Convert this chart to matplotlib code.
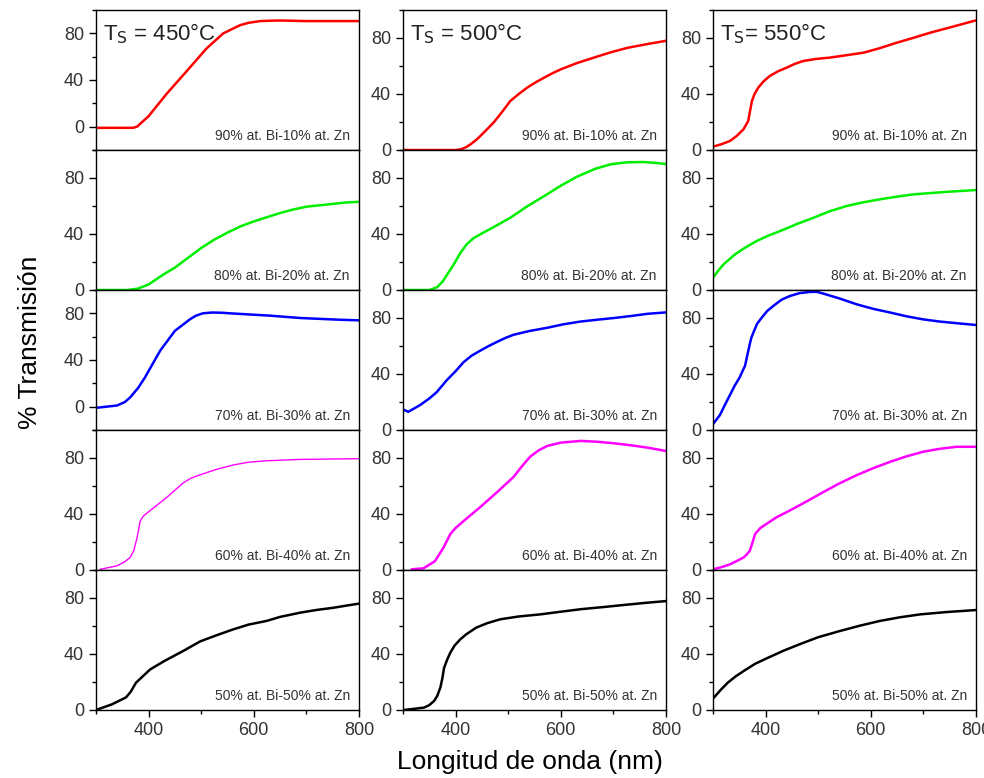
import matplotlib
matplotlib.use("Agg")
import matplotlib.pyplot as plt
from matplotlib.ticker import MultipleLocator

plt.rcParams['font.family'] = ['Liberation Sans', 'DejaVu Sans']

# --- datos (longitud de onda nm, % transmision) ---
temps = ["450", "500", "550"]
comps = ["90% at. Bi-10% at. Zn", "80% at. Bi-20% at. Zn", "70% at. Bi-30% at. Zn",
         "60% at. Bi-40% at. Zn", "50% at. Bi-50% at. Zn"]
colors = ["#ff0000", "#00ee00", "#0000ff", "#ff00ff", "#000000"]

# Ts = 450
wl_450_90 = [300, 340, 370, 378, 400, 434, 479, 510, 542, 574, 590, 612, 630, 650, 700, 750, 800]
t_450_90 = [-1, -1, -1, 0, 9, 28, 51, 67, 80, 87, 89, 90.5, 90.8, 91, 90.5, 90.5, 90.5]
wl_450_80 = [300, 360, 380, 390, 400, 410, 420, 430, 450, 475, 500, 525, 550, 575, 600,
             625, 650, 675, 700, 725, 750, 775, 800]
t_450_80 = [0, 0, 1, 2.5, 4, 6.5, 9, 11.5, 16, 23, 30, 36, 41, 45.5, 49,
            52, 55, 57.5, 59.5, 60.5, 61.5, 62.5, 63]
wl_450_70 = [300, 320, 340, 355, 365, 380, 393, 422, 450, 479, 490, 503, 520, 540, 555,
             631, 688, 764, 800]
t_450_70 = [-1, 0, 1, 4, 8, 16, 25, 48, 65, 75, 78, 80, 80.7, 80.5, 80,
            78, 76, 74.5, 74]
wl_450_60 = [308, 340, 355, 365, 372, 378, 384, 390, 403, 420, 435, 450, 465, 480, 498,
             530, 561, 590, 624, 688, 800]
t_450_60 = [0.5, 3, 6, 9, 14, 23, 35, 38.5, 42.5, 47.5, 52, 57, 62, 65.5, 68,
            72, 75, 77, 78, 79, 79.5]
wl_450_50 = [300, 330, 357, 366, 376, 403, 430, 465, 498, 530, 561, 590, 624, 650, 688,
             720, 751, 775, 800]
t_450_50 = [0, 4, 9, 13, 19.5, 29, 35, 42, 49, 53.5, 57.6, 61, 63.6, 66.5, 69.5,
            71.5, 73, 74.5, 76]

# Ts = 500
wl_500_90 = [300, 400, 410, 420, 430, 441, 455, 472, 488, 504, 520, 536, 552, 568, 585,
             600, 630, 663, 695, 727, 765, 800]
t_500_90 = [0, 0, 0.5, 2, 4.5, 7.8, 13, 19.5, 27, 35, 40, 44.5, 48.3, 51.6, 55,
            57.6, 62, 66, 69.8, 73, 75.7, 78]
wl_500_80 = [300, 350, 365, 376, 396, 410, 421, 434, 447, 475, 504, 535, 568, 600, 631,
             665, 695, 725, 758, 780, 800]
t_500_80 = [0, 0, 2, 6.4, 18, 27, 32.6, 37, 39.8, 45.5, 51.6, 59.5, 67, 74.5, 81,
            86.5, 89.8, 91.2, 91.4, 90.8, 90]
wl_500_70 = [300, 310, 332, 350, 364, 383, 400, 415, 430, 447, 463, 479, 495, 510, 540,
             574, 605, 638, 670, 701, 735, 765, 800]
t_500_70 = [14.7, 13, 17.7, 22.5, 27, 35.5, 42, 48.4, 53, 56.7, 60, 63, 65.8, 68, 70.7,
            73, 75.5, 77.5, 78.8, 80, 81.5, 83, 84]
wl_500_60 = [317, 339, 361, 377, 385, 390, 400, 420, 447, 480, 510, 527, 542, 558, 574,
             600, 638, 670, 701, 735, 765, 800]
t_500_60 = [0.5, 1.2, 6.4, 16, 22, 25.7, 30, 36.5, 45, 56, 66.4, 74.5, 81, 85.5, 88.6,
            91, 92.2, 91.6, 90.5, 89, 87.4, 85]
wl_500_50 = [302, 340, 350, 359, 365, 371, 375, 378, 384, 390, 398, 409, 420, 439, 460,
             485, 520, 561, 600, 638, 680, 714, 760, 800]
t_500_50 = [0, 1.7, 3.5, 6.4, 10, 16, 23, 30, 36, 41, 46, 50.5, 54, 58.8, 62,
            64.8, 66.8, 68.3, 70.2, 72, 73.5, 74.8, 76.5, 77.8]

# Ts = 550
wl_550_90 = [300, 315, 332, 345, 358, 362, 367, 370, 374, 379, 386, 396, 408, 424, 440,
             456, 472, 495, 522, 550, 586, 615, 649, 680, 713, 750, 800]
t_550_90 = [2.4, 4, 6.4, 10, 14.8, 17.5, 20.7, 27, 35, 40, 44.5, 49, 52.9, 56.3, 58.8,
            61.6, 63.6, 65, 66, 67.5, 69.5, 72.5, 76.6, 80, 83.8, 87.5, 92.6]
wl_550_80 = [300, 310, 320, 342, 360, 383, 405, 427, 460, 491, 520, 554, 585, 618, 650,
             681, 740, 800]
t_550_80 = [8.8, 13.8, 18.3, 25.5, 30, 35, 38.8, 42, 47.2, 51.6, 56, 60, 62.6, 64.8, 66.7,
            68.3, 70, 71.4]
wl_550_70 = [300, 313, 322, 332, 341, 351, 356, 361, 365, 370, 373, 377, 384, 393, 403,
             415, 430, 446, 465, 484, 497, 510, 540, 573, 605, 637, 668, 700, 730, 763, 800]
t_550_70 = [4.2, 10.6, 17.5, 24.8, 31.5, 37.8, 42, 46, 53, 61.5, 66, 69.8, 76, 80.4, 85,
            88.7, 93, 95.7, 97.8, 98.6, 98.7, 97.4, 94, 89.8, 86.5, 83.9, 81.2, 79, 77.5,
            76.3, 75]
wl_550_60 = [300, 316, 332, 345, 358, 364, 370, 375, 380, 390, 402, 420, 446, 478, 510,
             540, 573, 605, 637, 668, 700, 730, 763, 800]
t_550_60 = [0.5, 2, 4, 6.4, 8.9, 11, 13.7, 19.5, 25.7, 30, 33, 37.5, 42.5, 49, 55.7,
            61.8, 67.7, 72.8, 77.3, 81.2, 84.5, 86.5, 88, 88]
wl_550_50 = [302, 315, 328, 343, 359, 380, 405, 435, 465, 500, 541, 580, 617, 655, 694,
             745, 800]
t_550_50 = [9, 14.5, 19.5, 24, 28, 33, 37.4, 42.5, 47, 52, 56.4, 60.3, 63.6, 66.2, 68.3,
            70, 71.4]

series = {
    "450": [(wl_450_90, t_450_90), (wl_450_80, t_450_80), (wl_450_70, t_450_70),
            (wl_450_60, t_450_60), (wl_450_50, t_450_50)],
    "500": [(wl_500_90, t_500_90), (wl_500_80, t_500_80), (wl_500_70, t_500_70),
            (wl_500_60, t_500_60), (wl_500_50, t_500_50)],
    "550": [(wl_550_90, t_550_90), (wl_550_80, t_550_80), (wl_550_70, t_550_70),
            (wl_550_60, t_550_60), (wl_550_50, t_550_50)],
}
titles = {"450": r"T$_\mathrm{S}$ = 450°C", "500": r"T$_\mathrm{S}$ = 500°C",
          "550": r"T$_\mathrm{S}$= 550°C"}
# ylim por panel (columna 450 filas 1 y 3 empiezan en -20)
ylims = {("450", 0): (-20, 100), ("450", 2): (-20, 100)}

W, H = 984, 778
fig = plt.figure(figsize=(W / 100, H / 100), dpi=100)
col_left = [96, 403, 713]
col_w = 263
row_top0, row_h = 10, 140
GRAY = "#333333"

for c, ts in enumerate(temps):
    for r in range(5):
        top = row_top0 + r * row_h
        ax = fig.add_axes([col_left[c] / W, 1 - (top + row_h) / H, col_w / W, row_h / H])
        x, y = series[ts][r]
        lw = 1.0 if (ts == "450" and r == 3) else 1.8
        ax.plot(x, y, color=colors[r], lw=lw)
        ax.set_xlim(300, 800)
        ax.set_ylim(*ylims.get((ts, r), (0, 100)))
        ax.set_yticks([0, 40, 80])
        ax.yaxis.set_minor_locator(MultipleLocator(20))
        ax.set_xticks([400, 600, 800])
        ax.xaxis.set_minor_locator(MultipleLocator(100))
        ax.tick_params(which="both", direction="out", top=False, right=False,
                       labelsize=13, labelcolor=GRAY, width=1)
        ax.tick_params(which="major", length=5)
        ax.tick_params(which="minor", length=3)
        if r < 4:
            ax.tick_params(axis="x", which="both", bottom=False, labelbottom=False)
        for s in ax.spines.values():
            s.set_linewidth(1.0)
        ax.text(0.965, 0.1, comps[r], transform=ax.transAxes, ha="right", va="center",
                fontsize=10, color=GRAY)
        if r == 0:
            ax.text(0.025, 0.83, titles[ts], transform=ax.transAxes, ha="left",
                    va="center", fontsize=16, color="#222222")

fig.text(30 / W, 1 - 342 / H, "% Transmisión", rotation=90, ha="center", va="center",
         fontsize=19)
fig.text(530 / W, 1 - 762 / H, "Longitud de onda (nm)", ha="center", va="center",
         fontsize=19)

fig.savefig("out.png", dpi=100)
